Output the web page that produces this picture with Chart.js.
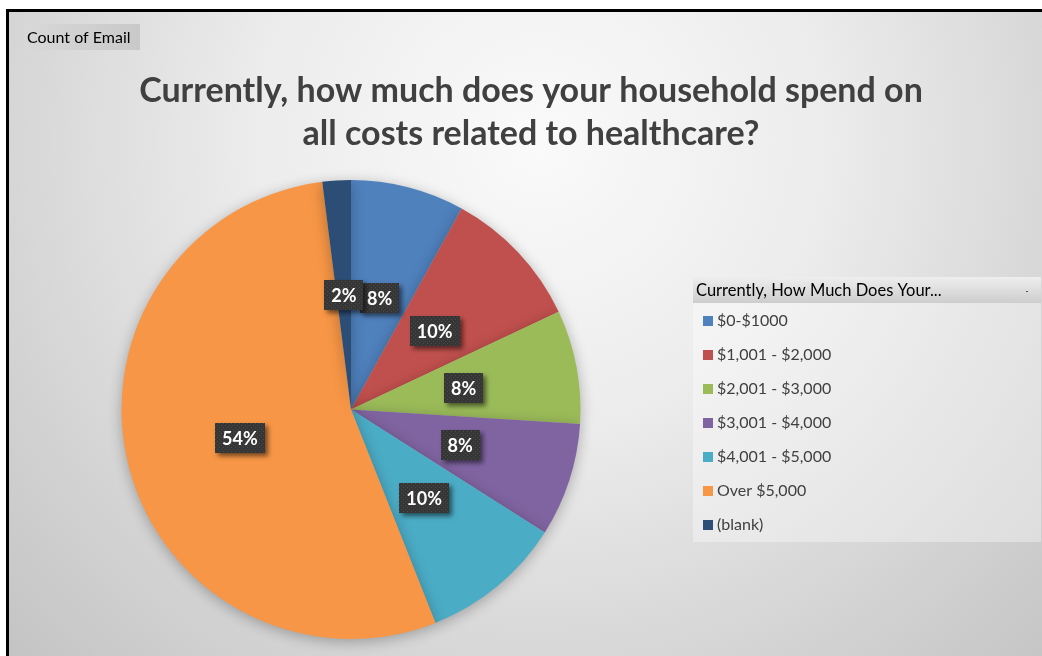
<!DOCTYPE html>
<html>
<head>
<meta charset="utf-8">
<title>Healthcare spending</title>
<script src="https://cdn.jsdelivr.net/npm/chart.js@4"></script>
<style>
  html, body { margin: 0; padding: 0; background: #fff; }
  canvas { display: block; }
</style>
</head>
<body>
<canvas id="pieChart" width="1042" height="656"></canvas>
<script>
// Survey answers: number of emails per spending bracket
const categories = ['$0-$1000', '$1,001 - $2,000', '$2,001 - $3,000', '$3,001 - $4,000', '$4,001 - $5,000', 'Over $5,000', '(blank)'];
const emailCounts = [4, 5, 4, 4, 5, 27, 1];
const sliceColors = ['#4F81BD', '#C0504D', '#9BBB59', '#8064A2', '#4BACC6', '#F79646', '#2C4D75'];

const titleLines = ['Currently, how much does your household spend on', 'all costs related to healthcare?'];
const fieldButton = 'Count of Email';
const legendHeader = 'Currently, How Much Does Your...';

const FONT = 'Lato, "Open Sans", sans-serif';

// Frame, gradient backdrop, title and the pivot field button
const backdrop = {
    id: 'backdrop',
    beforeDraw(chart) {
        const ctx = chart.ctx;
        const w = chart.width, h = chart.height;
        ctx.save();
        ctx.fillStyle = '#ffffff';
        ctx.fillRect(0, 0, w, h);

        const g = ctx.createRadialGradient(540, 140, 0, 540, 140, 820);
        g.addColorStop(0, '#fafafa');
        g.addColorStop(0.35, '#ececec');
        g.addColorStop(0.7, '#d2d2d2');
        g.addColorStop(1, '#bdbdbd');
        ctx.fillStyle = g;
        ctx.fillRect(8, 11, w, h);

        ctx.strokeStyle = '#000000';
        ctx.lineWidth = 3;
        ctx.beginPath();
        ctx.moveTo(7.5, h + 5);
        ctx.lineTo(7.5, 10.5);
        ctx.lineTo(w + 5, 10.5);
        ctx.stroke();

        // field button
        const bg = ctx.createLinearGradient(24, 0, 140, 0);
        bg.addColorStop(0, '#d8d8d8');
        bg.addColorStop(1, '#c9c9c9');
        ctx.fillStyle = bg;
        ctx.fillRect(24, 24, 116, 26);
        ctx.fillStyle = '#000000';
        ctx.font = '16px ' + FONT;
        ctx.textBaseline = 'middle';
        ctx.textAlign = 'left';
        ctx.fillText(fieldButton, 27, 38);

        // title
        ctx.fillStyle = '#404040';
        ctx.font = 'bold 34px ' + FONT;
        ctx.textAlign = 'center';
        ctx.fillText(titleLines[0], 531, 91);
        ctx.fillText(titleLines[1], 531, 134);
        ctx.restore();
    }
};

// Soft drop shadow under the pie
const pieShadow = {
    id: 'pieShadow',
    beforeDatasetsDraw(chart) {
        const ctx = chart.ctx;
        ctx.save();
        ctx.shadowColor = 'rgba(0,0,0,0.28)';
        ctx.shadowBlur = 14;
        ctx.shadowOffsetX = 0;
        ctx.shadowOffsetY = 3;
    },
    afterDatasetsDraw(chart) {
        chart.ctx.restore();
    }
};

function dotPattern(ctx) {
    const c = document.createElement('canvas');
    c.width = 4; c.height = 4;
    const p = c.getContext('2d');
    p.fillStyle = '#363636';
    p.fillRect(0, 0, 4, 4);
    p.fillStyle = '#4a4a4a';
    p.fillRect(1, 1, 1, 1);
    p.fillRect(3, 3, 1, 1);
    return ctx.createPattern(c, 'repeat');
}

// Percentage labels in dark boxes at each slice's centre point
const sliceLabels = {
    id: 'sliceLabels',
    afterDatasetsDraw(chart) {
        const ctx = chart.ctx;
        const meta = chart.getDatasetMeta(0);
        const data = chart.data.datasets[0].data;
        const total = data.reduce((a, b) => a + b, 0);
        const pattern = dotPattern(ctx);
        ctx.save();
        ctx.font = 'bold 18px ' + FONT;
        ctx.textAlign = 'center';
        ctx.textBaseline = 'middle';
        meta.data.forEach((arc, i) => {
            const pos = arc.tooltipPosition();
            const text = Math.round(data[i] / total * 100) + '%';
            const bw = Math.round(ctx.measureText(text).width) + 14;
            const bh = 30;
            const x = Math.round(pos.x - bw / 2), y = Math.round(pos.y - bh / 2);
            ctx.save();
            ctx.shadowColor = 'rgba(0,0,0,0.55)';
            ctx.shadowBlur = 5;
            ctx.shadowOffsetX = 3;
            ctx.shadowOffsetY = 3;
            ctx.fillStyle = pattern;
            ctx.fillRect(x, y, bw, bh);
            ctx.restore();
            ctx.fillStyle = '#ffffff';
            ctx.fillText(text, pos.x, pos.y + 1);
        });
        ctx.restore();
    }
};

// Legend panel with its field header
const legendPanel = {
    id: 'legendPanel',
    afterDraw(chart) {
        const ctx = chart.ctx;
        const ds = chart.data.datasets[0];
        const x0 = 693, y0 = 277, w = 348, h = 265;
        ctx.save();
        ctx.fillStyle = 'rgba(255,255,255,0.35)';
        ctx.fillRect(x0, y0, w, h);

        const hg = ctx.createLinearGradient(0, y0, 0, y0 + 26);
        hg.addColorStop(0, '#eeeeee');
        hg.addColorStop(1, '#cdcdcd');
        ctx.fillStyle = hg;
        ctx.fillRect(x0, y0, w, 26);

        ctx.fillStyle = '#000000';
        ctx.font = '16.5px ' + FONT;
        ctx.textBaseline = 'middle';
        ctx.textAlign = 'left';
        ctx.fillText(legendHeader, x0 + 3, y0 + 14);
        ctx.fillStyle = '#555555';
        ctx.fillRect(1026, y0 + 14, 2, 1);

        ctx.font = '16px ' + FONT;
        chart.data.labels.forEach((label, i) => {
            const cy = 321 + i * 34;
            ctx.fillStyle = ds.backgroundColor[i];
            ctx.fillRect(703, cy - 5, 10, 10);
            ctx.fillStyle = '#404040';
            ctx.fillText(label, 717, cy);
        });
        ctx.restore();
    }
};

new Chart(document.getElementById('pieChart').getContext('2d'), {
    type: 'pie',
    data: {
        labels: categories,
        datasets: [{
            label: 'Count of Email',
            data: emailCounts,
            backgroundColor: sliceColors,
            borderWidth: 0
        }]
    },
    options: {
        responsive: false,
        animation: false,
        layout: {
            padding: { left: 121, top: 180, right: 461, bottom: 17 }
        },
        plugins: {
            legend: { display: false },
            title: { display: false },
            tooltip: { enabled: false }
        }
    },
    plugins: [backdrop, pieShadow, sliceLabels, legendPanel]
});
</script>
</body>
</html>
